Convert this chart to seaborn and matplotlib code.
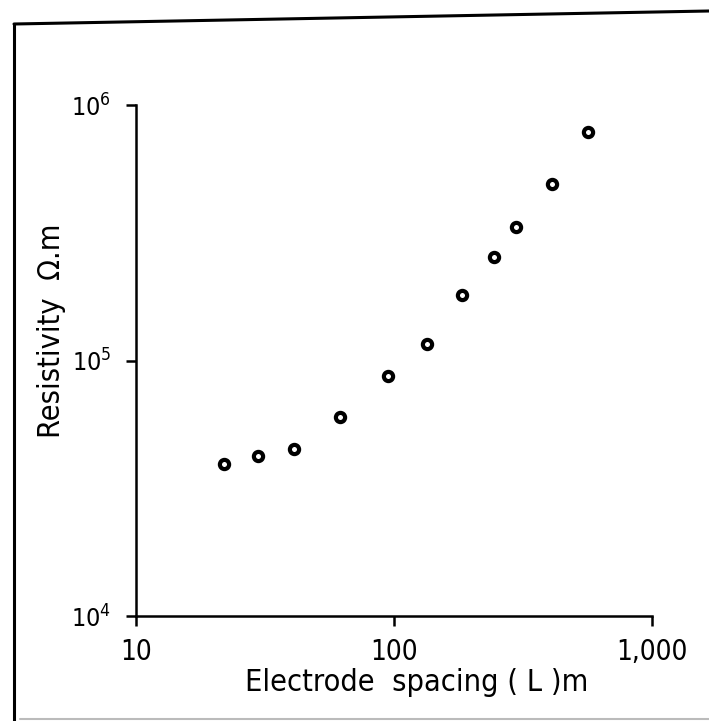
import matplotlib
matplotlib.use("Agg")
import numpy as np
import pandas as pd
import matplotlib.pyplot as plt
import seaborn as sns
from matplotlib.lines import Line2D
from matplotlib.ticker import FixedLocator, FixedFormatter, NullLocator

# values
spacing_m = [22, 29.7, 41, 62, 95, 134, 183, 244, 297, 410, 565]
resistivity = [39400, 42300, 45100, 60100, 86900, 116000, 180000, 254000, 333000, 491000, 784000]

x_ticks = [10, 100, 1000]
x_ticklabels = ["10", "100", "1,000"]
y_ticks = [1e4, 1e5, 1e6]
y_ticklabels = [r"$\mathregular{10^4}$", r"$\mathregular{10^5}$", r"$\mathregular{10^6}$"]

df = pd.DataFrame({"L": spacing_m, "rho": resistivity})

sns.set_style("ticks")
plt.rcParams["font.family"] = ["DejaVu Sans"]
plt.rcParams["font.stretch"] = "condensed"
plt.rcParams["text.color"] = "black"
plt.rcParams["axes.labelcolor"] = "black"

fig = plt.figure(figsize=(7.09, 7.21), dpi=100)
ax = fig.add_axes([136 / 709, 1 - 616 / 721, 516 / 709, 511 / 721])

sns.scatterplot(data=df, x="L", y="rho", ax=ax, marker="o", s=44,
                facecolor="white", edgecolor="black", linewidth=3.0, zorder=3)

ax.set_xscale("log")
ax.set_yscale("log")
ax.set_xlim(10, 1000)
ax.set_ylim(1e4, 1e6)

ax.xaxis.set_major_locator(FixedLocator(x_ticks))
ax.xaxis.set_major_formatter(FixedFormatter(x_ticklabels))
ax.yaxis.set_major_locator(FixedLocator(y_ticks))
ax.yaxis.set_major_formatter(FixedFormatter(y_ticklabels))
ax.xaxis.set_minor_locator(NullLocator())
ax.yaxis.set_minor_locator(NullLocator())

sns.despine(ax=ax)
for side in ["left", "bottom"]:
    ax.spines[side].set_linewidth(1.8)
    ax.spines[side].set_color("black")
ax.tick_params(axis="both", direction="out", length=7, width=1.8, color="black",
               labelcolor="black")
ax.tick_params(axis="x", pad=9, labelsize=20)
ax.tick_params(axis="y", pad=11, labelsize=18)
for lab in ax.get_xticklabels() + ax.get_yticklabels():
    lab.set_fontstretch("condensed")

ax.set_xlabel("Electrode  spacing ( L )m", fontsize=22, fontstretch="condensed")
ax.set_ylabel("Resistivity  \u03a9.m", fontsize=22, fontstretch="condensed")
ax.xaxis.set_label_coords(0.543, -0.102)
ax.yaxis.set_label_coords(-0.136, 0.558)

# scanned page border
fig.add_artist(Line2D([14 / 709, 14 / 709], [1 - 24 / 721, 0], transform=fig.transFigure,
                      color="black", lw=2.2))
fig.add_artist(Line2D([14 / 709, 1], [1 - 24 / 721, 1 - 11 / 721], transform=fig.transFigure,
                      color="black", lw=2.2))
fig.add_artist(Line2D([20 / 709, 1], [1 - 719 / 721, 1 - 719 / 721], transform=fig.transFigure,
                      color="#bbbbbb", lw=1.5))

fig.savefig("out.png", dpi=100, facecolor="white")
